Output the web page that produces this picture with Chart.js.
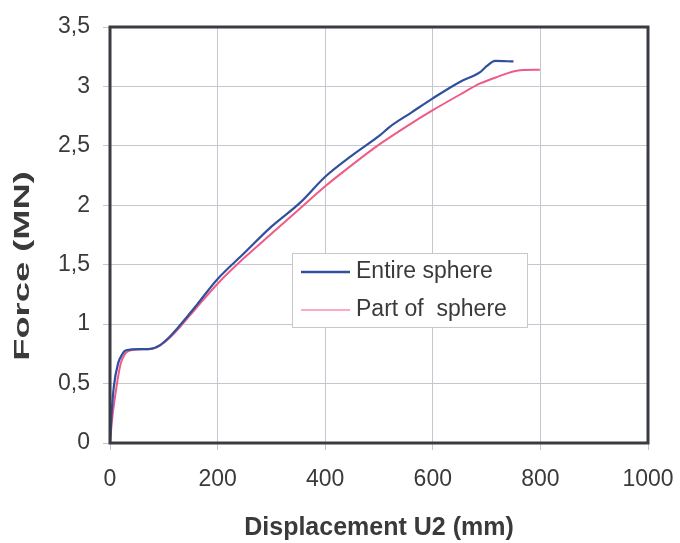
<!DOCTYPE html>
<html>
<head>
<meta charset="utf-8">
<script src="https://cdn.jsdelivr.net/npm/chart.js@4/dist/chart.umd.min.js"></script>
<style>
  html, body { margin: 0; padding: 0; background: #fff; }
  #wrap { width: 680px; height: 543px; }
</style>
</head>
<body>
<div id="wrap"><canvas id="forceChart" width="680" height="543"></canvas></div>
<script>
// Entire sphere (displacement mm, force MN)
const dispEntire = [0, 3, 7, 15, 22, 28, 40, 60, 75, 93, 111, 130, 161, 198, 250, 300, 353, 400, 450, 502, 520, 560, 600, 651, 688, 700, 716, 750];
const forceEntire = [0, 0.25, 0.47, 0.67, 0.74, 0.776, 0.787, 0.79, 0.792, 0.824, 0.894, 0.99, 1.16, 1.37, 1.6, 1.82, 2.02, 2.24, 2.42, 2.59, 2.66, 2.78, 2.9, 3.04, 3.12, 3.17, 3.215, 3.21];

// Part of sphere
const dispPart = [0, 4, 12, 20, 28, 35, 50, 75, 93, 111, 130, 161, 200, 250, 300, 350, 400, 450, 500, 550, 600, 650, 688, 720, 762, 799];
const forcePart = [0, 0.2, 0.47, 0.67, 0.75, 0.775, 0.787, 0.79, 0.82, 0.885, 0.975, 1.14, 1.34, 1.56, 1.76, 1.96, 2.16, 2.34, 2.51, 2.66, 2.8, 2.93, 3.025, 3.08, 3.137, 3.14];

const seriesLabels = ['Entire sphere', 'Part of  sphere'];
const xTitle = 'Displacement U2 (mm)';
const yTitle = 'Force (MN)';

const blue = '#30509e';
const pink = '#f05a86';
const fontFamily = '"Liberation Sans", Arial, sans-serif';

const toPoints = (xs, ys) => xs.map((x, i) => ({ x: x, y: ys[i] }));

// dark frame round the plot area
const framePlugin = {
    id: 'frame',
    afterDatasetsDraw(chart) {
        const a = chart.chartArea;
        const ctx = chart.ctx;
        ctx.save();
        ctx.strokeStyle = '#3b3b42';
        ctx.lineWidth = 3;
        ctx.strokeRect(a.left, a.top, a.right - a.left, a.bottom - a.top);
        ctx.restore();
    }
};

// boxed legend inside the plot
const boxLegend = {
    id: 'boxLegend',
    afterDraw(chart) {
        const ctx = chart.ctx;
        const a = chart.chartArea;
        const bx = a.left + 182, by = a.top + 226, bw = 235, bh = 74;
        ctx.save();
        ctx.fillStyle = '#fff';
        ctx.fillRect(bx, by, bw, bh);
        ctx.strokeStyle = '#c8c8cc';
        ctx.lineWidth = 1;
        ctx.strokeRect(bx + 0.5, by + 0.5, bw, bh);
        ctx.font = '23px ' + fontFamily;
        ctx.textBaseline = 'middle';
        ctx.fillStyle = '#3a3a3a';
        chart.data.datasets.forEach((ds, i) => {
            const ly = by + 19 + i * 38;
            ctx.strokeStyle = ds.borderColor;
            ctx.lineWidth = i === 0 ? 2.5 : 1;
            ctx.beginPath();
            ctx.moveTo(bx + 9, ly);
            ctx.lineTo(bx + 58, ly);
            ctx.stroke();
            ctx.fillText(ds.label, bx + 64, ly);
        });
        ctx.restore();
    }
};

// y title drawn by hand, it is stretched in the original
const yTitlePlugin = {
    id: 'yTitle',
    afterDraw(chart) {
        const ctx = chart.ctx;
        ctx.save();
        ctx.translate(23, 266);
        ctx.rotate(-Math.PI / 2);
        ctx.scale(1.65, 1);
        ctx.font = 'bold 22px ' + fontFamily;
        ctx.fillStyle = '#3a3a3a';
        ctx.textAlign = 'center';
        ctx.textBaseline = 'middle';
        ctx.fillText(yTitle, 0, 0);
        ctx.restore();
    }
};

const ctx = document.getElementById('forceChart').getContext('2d');
new Chart(ctx, {
    type: 'scatter',
    data: {
        datasets: [{
            label: seriesLabels[0],
            data: toPoints(dispEntire, forceEntire),
            borderColor: blue,
            borderWidth: 2.2,
            showLine: true,
            pointRadius: 0,
            cubicInterpolationMode: 'monotone'
        }, {
            label: seriesLabels[1],
            data: toPoints(dispPart, forcePart),
            borderColor: pink,
            borderWidth: 2,
            showLine: true,
            pointRadius: 0,
            cubicInterpolationMode: 'monotone'
        }]
    },
    options: {
        responsive: false,
        animation: false,
        layout: {
            padding: { top: 27, right: 32, left: 0, bottom: 0 }
        },
        plugins: {
            legend: { display: false },
            tooltip: { enabled: false }
        },
        scales: {
            x: {
                type: 'linear',
                min: 0,
                max: 1000,
                afterFit: scale => {
                    scale.height = 100;
                    scale.paddingLeft = 0;
                    scale.paddingRight = 0;
                },
                ticks: {
                    stepSize: 200,
                    padding: 16,
                    maxRotation: 0,
                    color: '#3a3a3a',
                    font: { size: 23, family: fontFamily },
                    callback: v => String(v)
                },
                grid: { color: '#c6c6ce', lineWidth: 1, tickLength: 7 },
                border: { display: false },
                title: {
                    display: true,
                    text: xTitle,
                    color: '#3a3a3a',
                    font: { size: 25, weight: 'bold', family: fontFamily },
                    padding: { top: 0, bottom: 0 }
                }
            },
            y: {
                min: 0,
                max: 3.5,
                afterFit: scale => {
                    scale.width = 110;
                    scale.paddingTop = 0;
                    scale.paddingBottom = 0;
                },
                ticks: {
                    stepSize: 0.5,
                    padding: 13,
                    color: '#3a3a3a',
                    font: { size: 23, family: fontFamily },
                    callback: v => v.toString().replace('.', ',')
                },
                grid: { color: '#c6c6ce', lineWidth: 1, tickLength: 7 },
                border: { display: false }
            }
        }
    },
    plugins: [framePlugin, boxLegend, yTitlePlugin]
});
</script>
</body>
</html>
